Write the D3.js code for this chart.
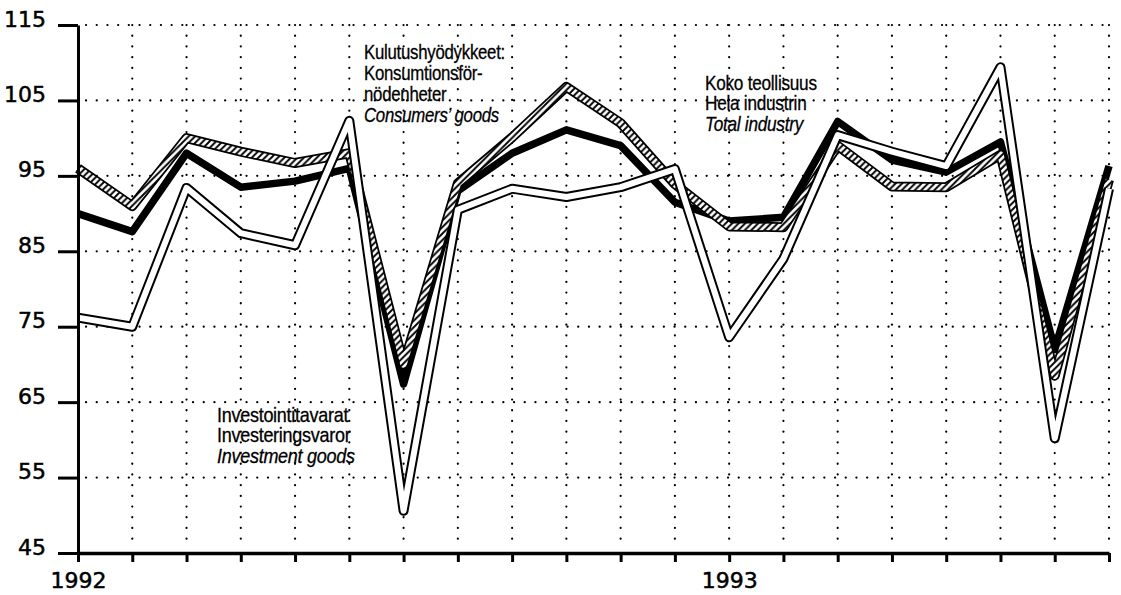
<!DOCTYPE html>
<html>
<head>
<meta charset="utf-8">
<script src="https://cdn.jsdelivr.net/npm/d3@7"></script>
<style>
  body { margin: 0; background: #fff; }
  svg { display: block; }
</style>
</head>
<body>
<svg id="chart" width="1121" height="595"></svg>
<script>
// months Jan 1992 .. Aug 1993
const months = d3.range(20)
const yearLabels = { 0: '1992', 12: '1993' }
const yTicks = [45, 55, 65, 75, 85, 95, 105, 115]

// index values
const total = [90, 87.6, 98, 93.5, 94.3, 96, 67.4, 93, 98, 101.1, 99, 91.5, 89, 89.5, 102.2, 97.1, 95.5, 99.5, 72, 96.3]
const consumers = [96, 91, 100, 98.2, 96.7, 98, 70, 94, 100.1, 106.8, 102, 93.9, 88.3, 88.2, 99, 93.6, 93.5, 97.8, 68.5, 94.5]
const investment = [76.2, 75, 93.4, 87.4, 85.8, 102.3, 50.6, 90.5, 93.3, 92.2, 93.5, 95.9, 73.6, 84, 100.4, 98.2, 96.3, 109.4, 60.2, 93.3]

const consumersLabel = ['Kulutushyödykkeet:', 'Konsumtionsför-', 'nödenheter', 'Consumers\u2019 goods']
const totalLabel = ['Koko teollisuus', 'Hela industrin', 'Total industry']
const investmentLabel = ['Investointitavarat', 'Investeringsvaror', 'Investment goods']

const svg = d3.select('#chart')

const x = d3.scaleLinear()
    .domain([0, 19])
    .range([78, 1109])

const y = d3.scaleLinear()
    .domain([45, 115])
    .range([553, 25])

// hatch used for the consumers' goods line
const pat = svg.append('defs').append('pattern')
    .attr('id', 'hatch')
    .attr('patternUnits', 'userSpaceOnUse')
    .attr('width', 6.5)
    .attr('height', 6.5)
pat.append('rect').attr('width', 6.5).attr('height', 6.5).attr('fill', '#fff')
pat.append('path')
    .attr('d', 'M-1,1 l2,-2 M0,6.5 l6.5,-6.5 M5.5,7.5 l2,-2')
    .attr('stroke', '#000')
    .attr('stroke-width', 1.9)

// dotted grid
const grid = svg.append('g')
grid.selectAll('.hgrid')
    .data(yTicks.slice(1))
    .enter().append('line')
    .attr('x1', x(0) + 8)
    .attr('x2', x(19))
    .attr('y1', d => y(d))
    .attr('y2', d => y(d))
grid.selectAll('.vgrid')
    .data(months.slice(1))
    .enter().append('line')
    .attr('x1', d => x(d))
    .attr('x2', d => x(d))
    .attr('y1', y(115))
    .attr('y2', y(45) - 4)
grid.selectAll('line')
    .attr('stroke', '#000')
    .attr('stroke-width', 2.2)
    .attr('stroke-linecap', 'round')
    .attr('stroke-dasharray', '0.1 10.6')

// lines
const line = d3.line()
    .x((d, i) => x(i))
    .y(d => y(d))

const lines = svg.append('g')
    .attr('fill', 'none')
    .attr('stroke-linejoin', 'round')

lines.append('path')
    .attr('d', line(total))
    .attr('stroke', '#000')
    .attr('stroke-width', 7.5)

lines.append('path')
    .attr('d', line(consumers))
    .attr('stroke', '#000')
    .attr('stroke-width', 10)
lines.append('path')
    .attr('d', line(consumers))
    .attr('stroke', 'url(#hatch)')
    .attr('stroke-width', 6.5)

lines.append('path')
    .attr('d', line(investment))
    .attr('stroke', '#000')
    .attr('stroke-width', 10)
lines.append('path')
    .attr('d', line(investment))
    .attr('stroke', '#fff')
    .attr('stroke-width', 6)

// axes
const yAxis = d3.axisLeft(y)
    .tickValues(yTicks)
    .tickSize(20)
    .tickSizeOuter(0)
    .tickPadding(12)

const yg = svg.append('g')
    .attr('transform', 'translate(' + x(0) + ',0)')
    .call(yAxis)
yg.select('.domain').attr('stroke-width', 3)
yg.selectAll('.tick line').attr('stroke-width', 3)
yg.selectAll('.tick text')
    .attr('dy', '0.05em')
    .attr('font-family', '"DejaVu Sans", sans-serif')
    .attr('font-size', 22)
    .attr('stroke', '#000')
    .attr('stroke-width', 0.5)
    .attr('fill', '#000')

const xAxis = d3.axisBottom(x)
    .tickValues(months)
    .tickSize(9)
    .tickSizeOuter(0)
    .tickPadding(10)
    .tickFormat(d => yearLabels[d] || '')

const xg = svg.append('g')
    .attr('transform', 'translate(0,' + y(45) + ')')
    .call(xAxis)
xg.select('.domain').attr('stroke-width', 3.5)
xg.selectAll('.tick line').attr('stroke-width', 3)
xg.selectAll('.tick text')
    .attr('font-family', '"DejaVu Sans", sans-serif')
    .attr('font-size', 22)
    .attr('stroke', '#000')
    .attr('stroke-width', 0.5)
    .attr('fill', '#000')

// series labels, condensed by a horizontal squeeze
function addLabel(rows, px, py, step, squeeze) {
    const g = svg.append('g')
        .attr('transform', 'translate(' + px + ',' + py + ') scale(' + squeeze + ',1)')
    rows.forEach((s, i) => {
        g.append('text')
            .attr('x', 0)
            .attr('y', i * step)
            .attr('font-family', '"Liberation Sans", Arial, sans-serif')
            .attr('font-size', 20)
            .attr('font-style', i === rows.length - 1 ? 'italic' : 'normal')
            .attr('letter-spacing', -0.3)
            .attr('stroke', '#000')
            .attr('stroke-width', 0.3)
            .attr('fill', '#000')
            .text(s)
    })
}

addLabel(consumersLabel, 364, 59, 21, 0.84)
addLabel(totalLabel, 705, 90, 20.5, 0.86)
addLabel(investmentLabel, 217, 422, 20.5, 0.9)
</script>
</body>
</html>
